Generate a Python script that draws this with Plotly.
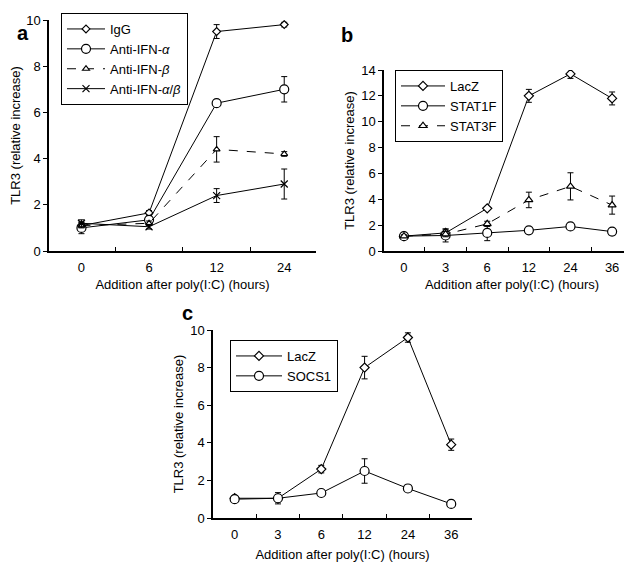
import plotly.graph_objects as go

# ---------------- data ----------------
# panel a
hours_a = ["0", "6", "12", "24"]
igg = [1.1, 1.65, 9.5, 9.8]
igg_err = [0.15, 0.1, 0.3, 0.1]
anti_a = [1.0, 1.35, 6.4, 7.0]
anti_a_err = [0.25, 0.1, 0.1, 0.55]
anti_b = [1.1, 1.2, 4.4, 4.2]
anti_b_err = [0.1, 0.1, 0.55, 0.1]
anti_ab = [1.2, 1.05, 2.4, 2.9]
anti_ab_err = [0.15, 0.1, 0.3, 0.65]

# panel b
hours_b = ["0", "3", "6", "12", "24", "36"]
lacz_b = [1.15, 1.4, 3.3, 12.0, 13.7, 11.8]
lacz_b_err = [0.1, 0.3, 0.1, 0.5, 0.35, 0.5]
stat1f = [1.15, 1.2, 1.4, 1.6, 1.9, 1.5]
stat1f_err = [0.1, 0.5, 0.6, 0.1, 0.1, 0.1]
stat3f = [1.15, 1.3, 2.1, 3.95, 5.0, 3.55]
stat3f_err = [0.1, 0.2, 0.2, 0.6, 1.05, 0.7]

# panel c
hours_c = ["0", "3", "6", "12", "24", "36"]
lacz_c = [1.05, 1.05, 2.6, 8.0, 9.6, 3.9]
lacz_c_err = [0.1, 0.2, 0.2, 0.6, 0.25, 0.3]
socs1 = [1.0, 1.05, 1.33, 2.5, 1.57, 0.75]
socs1_err = [0.1, 0.3, 0.1, 0.65, 0.1, 0.15]

FONT = "Liberation Sans, Arial, sans-serif"
BLACK = "black"

fig = go.Figure()


def add(x, y, err, name, symbol, size, dash, xa, ya, legend):
    fig.add_trace(go.Scatter(
        x=x, y=y, name=name, mode="lines+markers",
        xaxis=xa, yaxis=ya, legend=legend,
        line=dict(color=BLACK, width=1, dash=dash),
        marker=dict(symbol=symbol, size=size, color="white",
                    line=dict(color=BLACK, width=1.2)),
        error_y=dict(type="data", array=err, visible=True, color=BLACK,
                     thickness=1, width=3),
    ))


# panel a
add(hours_a, igg, igg_err, "IgG", "diamond", 6, "solid", "x", "y", "legend")
add(hours_a, anti_a, anti_a_err, "Anti-IFN-<i>α</i>", "circle", 9, "solid", "x", "y", "legend")
add(hours_a, anti_b, anti_b_err, "Anti-IFN-<i>β</i>", "triangle-up", 6, "dash", "x", "y", "legend")
fig.add_trace(go.Scatter(
    x=hours_a, y=anti_ab, name="Anti-IFN-<i>α</i>/<i>β</i>", mode="lines+markers",
    xaxis="x", yaxis="y", legend="legend",
    line=dict(color=BLACK, width=1),
    marker=dict(symbol="x-thin", size=7, color=BLACK, line=dict(color=BLACK, width=1.2)),
    error_y=dict(type="data", array=anti_ab_err, visible=True, color=BLACK, thickness=1, width=3),
))

# panel b
add(hours_b, lacz_b, lacz_b_err, "LacZ", "diamond", 7, "solid", "x2", "y2", "legend2")
add(hours_b, stat1f, stat1f_err, "STAT1F", "circle", 9, "solid", "x2", "y2", "legend2")
add(hours_b, stat3f, stat3f_err, "STAT3F", "triangle-up", 7, "dash", "x2", "y2", "legend2")

# panel c
add(hours_c, lacz_c, lacz_c_err, "LacZ", "diamond", 7, "solid", "x3", "y3", "legend3")
add(hours_c, socs1, socs1_err, "SOCS1", "circle", 9, "solid", "x3", "y3", "legend3")

W, H = 632, 568
OFF = 8  # page offset of the plot div


def px(v):
    return (v - OFF) / W


def py(v):
    return 1 - (v - OFF) / H


xcommon = dict(type="category", showline=True, linecolor=BLACK, linewidth=1.5,
               ticks="inside", tickson="boundaries", ticklen=4, tickcolor=BLACK,
               showgrid=False, zeroline=False, automargin=False,
               ticklabelstandoff=4,
               tickfont=dict(family=FONT, size=13, color=BLACK))
ycommon = dict(showline=True, linecolor=BLACK, linewidth=1.5, ticks="outside",
               ticklen=4, tickcolor=BLACK, showgrid=False, zeroline=False,
               automargin=False,
               tickfont=dict(family=FONT, size=13, color=BLACK),
               title=dict(text="TLR3 (relative increase)",
                          font=dict(family=FONT, size=13, color=BLACK), standoff=4))
XTITLE = "Addition after poly(I:C) (hours)"
xtfont = dict(family=FONT, size=13, color=BLACK)

legcommon = dict(bgcolor="white", bordercolor=BLACK, borderwidth=1,
                 font=dict(family=FONT, size=13, color=BLACK),
                 xanchor="left", yanchor="top", tracegroupgap=0)

fig.update_layout(
    template="none",
    width=W, height=H,
    margin=dict(l=0, r=0, t=0, b=0, autoexpand=False),
    paper_bgcolor="white", plot_bgcolor="white",
    showlegend=True,
    xaxis=dict(xcommon, domain=[px(49), px(316)], range=[-0.48, 3.47], anchor="y",
               title=dict(text=XTITLE, font=xtfont, standoff=6)),
    yaxis=dict(ycommon, domain=[py(251), py(20)], range=[0, 10], dtick=2, anchor="x"),
    xaxis2=dict(xcommon, domain=[px(384), px(640)], range=[-0.48, 5.67], anchor="y2",
                title=dict(text=XTITLE, font=xtfont, standoff=6)),
    yaxis2=dict(ycommon, domain=[py(251), py(70)], range=[0, 14], dtick=2, anchor="x2"),
    xaxis3=dict(xcommon, domain=[px(213), px(472)], range=[-0.5, 5.48], anchor="y3",
                title=dict(text=XTITLE, font=xtfont, standoff=9)),
    yaxis3=dict(ycommon, domain=[py(518), py(330)], range=[0, 10], dtick=2, anchor="x3"),
    legend=dict(legcommon, x=px(61), y=py(13), itemwidth=38),
    legend2=dict(legcommon, x=px(395), y=py(70), itemwidth=44),
    legend3=dict(legcommon, x=px(230), y=py(340), itemwidth=46),
    annotations=[
        dict(text="<b>a</b>", x=px(15), y=py(20), xref="paper", yref="paper",
             showarrow=False, font=dict(family=FONT, size=20, color=BLACK)),
        dict(text="<b>b</b>", x=px(347), y=py(22), xref="paper", yref="paper",
             showarrow=False, font=dict(family=FONT, size=20, color=BLACK)),
        dict(text="<b>c</b>", x=px(180), y=py(313), xref="paper", yref="paper",
             showarrow=False, font=dict(family=FONT, size=20, color=BLACK)),
    ],
)

fig.write_html("out.html")
